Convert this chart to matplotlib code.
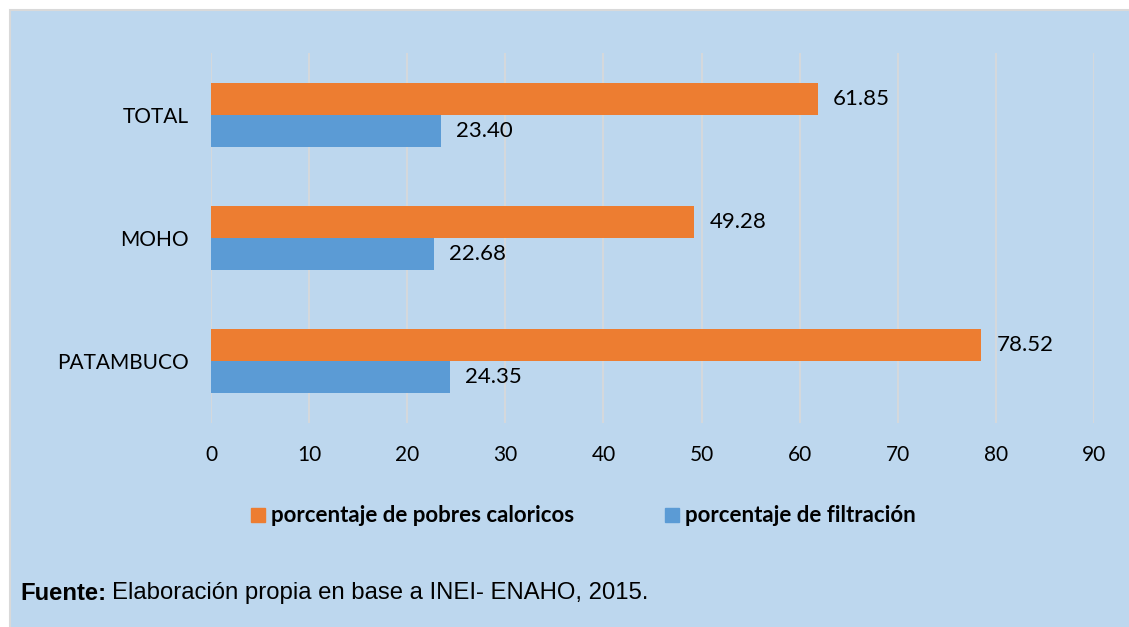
import matplotlib.pyplot as plt
from matplotlib.patches import Rectangle, Patch
import numpy as np

categorias = ['PATAMBUCO', 'MOHO', 'TOTAL']
pobres_caloricos = [78.52, 49.28, 61.85]
filtracion = [24.35, 22.68, 23.40]
ticks_x = [0, 10, 20, 30, 40, 50, 60, 70, 80, 90]

naranja = '#ED7D31'
azul = '#5B9BD5'
fondo = '#BDD7EE'

plt.rcParams['font.family'] = ['Lato', 'DejaVu Sans']

fig = plt.figure(figsize=(11.29, 6.27), dpi=100)
fig.patch.set_facecolor('white')
fig.patches.append(Rectangle((10/1129, -0.1), 1.2, 1.1 - 10/627, transform=fig.transFigure,
                             facecolor=fondo, edgecolor='#D9D9D9', linewidth=1.5, zorder=-10))

ax = fig.add_axes([211/1129, 1 - 423/627, (1094 - 211)/1129, (423 - 53)/627])
ax.set_facecolor('none')

y = np.arange(len(categorias))
h = 0.26
b1 = ax.barh(y + h/2, pobres_caloricos, height=h, color=naranja, zorder=3)
b2 = ax.barh(y - h/2, filtracion, height=h, color=azul, zorder=3)

for bars, vals in ((b1, pobres_caloricos), (b2, filtracion)):
    for bar, v in zip(bars, vals):
        ax.annotate(f'{v:.2f}', (v, bar.get_y() + bar.get_height()/2),
                    xytext=(11, 0), textcoords='offset points',
                    va='center', ha='left', fontsize=16, color='#000000')

ax.set_xlim(0, 90)
ax.set_ylim(-0.5, 2.5)
ax.set_xticks(ticks_x)
ax.set_yticks(y)
ax.set_yticklabels(categorias)
ax.tick_params(axis='both', length=0, labelsize=15, colors='#000000')
ax.tick_params(axis='x', pad=16)
ax.tick_params(axis='y', pad=16)
for s in ax.spines.values():
    s.set_visible(False)
ax.grid(axis='x', color='#D9D9D9', linewidth=1.2, zorder=0)

handles = [Patch(color=naranja, label='porcentaje de pobres caloricos'),
           Patch(color=azul, label='porcentaje de filtración')]
fig.legend(handles=handles, loc='center', bbox_to_anchor=(0.517, 1 - 516/627), ncol=2,
           frameon=False, prop={'weight': 'bold', 'size': 16},
           handlelength=0.6, handleheight=0.6, handletextpad=0.3, columnspacing=4.1)

t1 = fig.text(20/1129, 1 - 593/627, 'Fuente:', fontsize=17.2, fontweight='bold',
              family='Liberation Sans', va='center', ha='left')
fig.canvas.draw()
bb = t1.get_window_extent()
fig.text((bb.x1 + 6)/1129, 1 - 593/627, 'Elaboración propia en base a INEI- ENAHO, 2015.',
         fontsize=17.2, family='Liberation Sans', va='center', ha='left')

fig.savefig('out.png', dpi=100, facecolor=fig.get_facecolor())
